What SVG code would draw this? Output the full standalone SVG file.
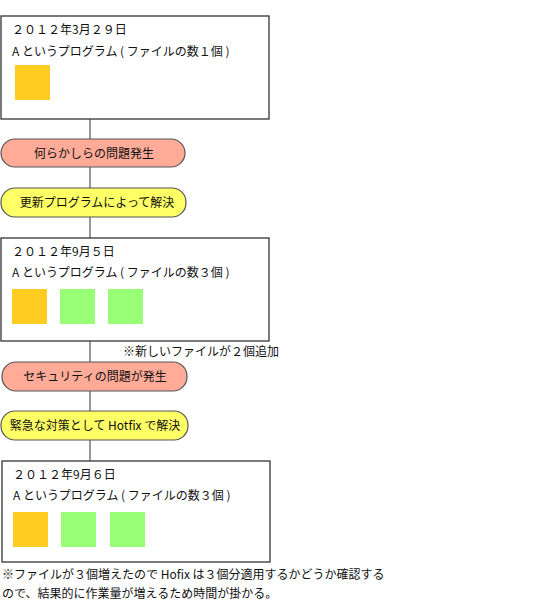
<svg xmlns="http://www.w3.org/2000/svg" width="533" height="603" viewBox="0 0 533 603">
<style>
text{font-family:"Noto Sans CJK JP","Noto Sans CJK SC",sans-serif;font-size:12px;fill:#111}
.box{fill:#fff;stroke:#333;stroke-width:1.3}
.pr{fill:#ffab98;stroke:#555;stroke-width:1.2}
.py{fill:#ffff66;stroke:#555;stroke-width:1.2}
.or{fill:#ffcc22}
.gr{fill:#99ff77}
.c{text-anchor:middle}
.ln{stroke:#333;stroke-width:1;fill:none}
</style>
<rect width="533" height="603" fill="#fff"/>
<g id="connectors">
<line class="ln" x1="90" y1="119" x2="90" y2="139"/>
<line class="ln" x1="90" y1="167" x2="90" y2="188"/>
<line class="ln" x1="90" y1="217" x2="90" y2="238"/>
<line class="ln" x1="90" y1="341" x2="90" y2="362"/>
<line class="ln" x1="90" y1="391" x2="90" y2="412"/>
<line class="ln" x1="90" y1="440" x2="90" y2="461"/>
</g>
<g id="box1">
<rect class="box" x="1" y="16" width="268" height="103"/>
<text x="12" y="34">２０１２年3月２９日</text>
<text x="12" y="56">A というプログラム ( ファイルの数１個 )</text>
<rect class="or" x="15" y="65" width="35" height="35"/>
</g>
<g id="event1">
<rect class="pr" x="1" y="139" width="184" height="28" rx="14"/>
<text class="c" x="94" y="158">何らかしらの問題発生</text>
</g>
<g id="fix1">
<rect class="py" x="1" y="188" width="185" height="29" rx="14"/>
<text class="c" x="97" y="207">更新プログラムによって解決</text>
</g>
<g id="box2">
<rect class="box" x="1" y="238" width="268" height="103"/>
<text x="12" y="256">２０１２年9月５日</text>
<text x="12" y="277">A というプログラム ( ファイルの数３個 )</text>
<rect class="or" x="12" y="289" width="35" height="35"/>
<rect class="gr" x="60" y="289" width="35" height="35"/>
<rect class="gr" x="108" y="289" width="35" height="35"/>
</g>
<text id="note1" x="123" y="356">※新しいファイルが２個追加</text>
<g id="event2">
<rect class="pr" x="2" y="362" width="185" height="29" rx="14"/>
<text class="c" x="95" y="381">セキュリティの問題が発生</text>
</g>
<g id="fix2">
<rect class="py" x="1" y="411" width="187" height="29" rx="14"/>
<text class="c" x="95" y="430">緊急な対策として Hotfix で解決</text>
</g>
<g id="box3">
<rect class="box" x="2" y="461" width="268" height="101"/>
<text x="13" y="479">２０１２年9月６日</text>
<text x="13" y="500">A というプログラム ( ファイルの数３個 )</text>
<rect class="or" x="13" y="512" width="35" height="35"/>
<rect class="gr" x="61" y="512" width="35" height="35"/>
<rect class="gr" x="110" y="512" width="35" height="35"/>
</g>
<g id="footnote">
<text x="2" y="579">※ファイルが３個増えたので Hofix は３個分適用するかどうか確認する</text>
<text x="2" y="598">ので、結果的に作業量が増えるため時間が掛かる。</text>
</g>
</svg>
